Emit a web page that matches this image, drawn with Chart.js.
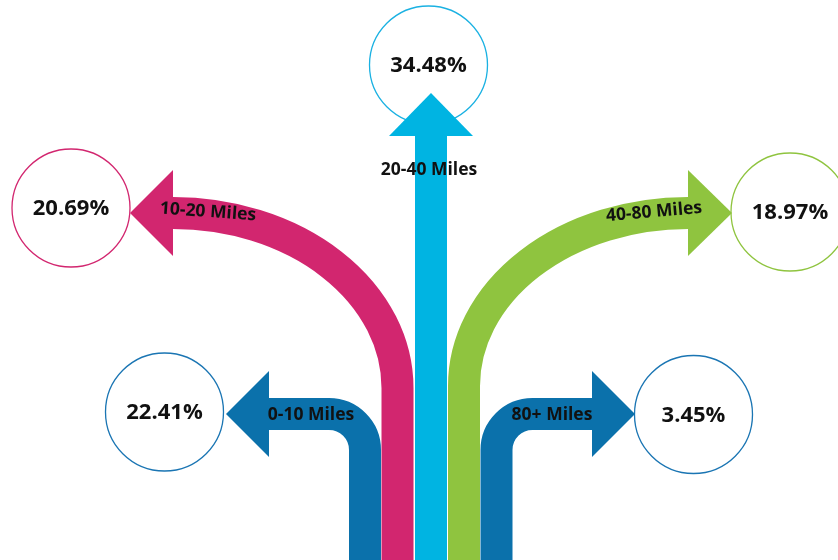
<!DOCTYPE html>
<html>
<head>
<meta charset="utf-8">
<title>Commute distance</title>
<style>
  html, body { margin: 0; padding: 0; background: #fff; }
  .wrap { position: relative; width: 838px; height: 560px; }
</style>
</head>
<body>
<div class="wrap"><canvas id="flow"></canvas></div>
<script src="https://cdn.jsdelivr.net/npm/chart.js@4/dist/chart.umd.min.js"></script>
<script>
'use strict'

const categories = ['0-10 Miles', '10-20 Miles', '20-40 Miles', '40-80 Miles', '80+ Miles']
const shares = [22.41, 20.69, 34.48, 18.97, 3.45]

const colors = ['#0b71ab', '#d2266f', '#00b4e2', '#8fc43f', '#0b71ab']
const ringColors = ['#1a75b3', '#d2266f', '#1ab1e2', '#8fc43f', '#1a75b3']

// arrow routes, in the units of the hidden axes (0..838 across, 0..560 down)
const routes = [
  { type: 'elbow', x: 365, y: 414, toX: 269, tipX: 226 },
  { type: 'curve', x: 397.5, bendY: 388, toX: 173, y: 213, tipX: 130 },
  { type: 'straight', x: 431, toY: 136, tipY: 93 },
  { type: 'curve', x: 464, bendY: 386, toX: 688, y: 213, tipX: 732 },
  { type: 'elbow', x: 496.5, y: 414, toX: 592, tipX: 635 }
]
const bubbleSpots = [[164.5, 412], [71, 208], [428.5, 65], [790, 212], [693.5, 414.5]]
const labelSpots = [[311, 415, 0], [208, 212, 4], [429, 170, 0], [654, 212, -5], [552, 415, 0]]

const SHAFT = 32
const HEAD = 43
const FONT = '"Open Sans", Lato, sans-serif'

function drawRoute(ctx, X, Y, r, color) {
  const bottom = Y(562)
  ctx.save()
  ctx.strokeStyle = color
  ctx.fillStyle = color
  ctx.lineWidth = SHAFT
  ctx.lineCap = 'butt'
  ctx.beginPath()
  ctx.moveTo(X(r.x), bottom)
  if (r.type === 'straight') {
    ctx.lineTo(X(r.x), Y(r.toY))
  } else if (r.type === 'elbow') {
    ctx.arcTo(X(r.x), Y(r.y), X(r.toX), Y(r.y), 36)
    ctx.lineTo(X(r.toX), Y(r.y))
  } else {
    const rx = Math.abs(X(r.x) - X(r.toX))
    const ry = Y(r.bendY) - Y(r.y)
    ctx.lineTo(X(r.x), Y(r.bendY))
    if (r.toX < r.x) {
      ctx.ellipse(X(r.toX), Y(r.bendY), rx, ry, 0, 0, -Math.PI / 2, true)
    } else {
      ctx.ellipse(X(r.toX), Y(r.bendY), rx, ry, 0, Math.PI, 1.5 * Math.PI, false)
    }
  }
  ctx.stroke()

  // arrow head
  ctx.beginPath()
  if (r.type === 'straight') {
    ctx.moveTo(X(r.x) - HEAD + 1, Y(r.toY))
    ctx.lineTo(X(r.x), Y(r.tipY))
    ctx.lineTo(X(r.x) + HEAD - 1, Y(r.toY))
  } else {
    ctx.moveTo(X(r.toX), Y(r.y) - HEAD)
    ctx.lineTo(X(r.tipX), Y(r.y))
    ctx.lineTo(X(r.toX), Y(r.y) + HEAD)
  }
  ctx.closePath()
  ctx.fill()
  ctx.restore()
}

const arrowPlugin = {
  id: 'arrows',
  afterDatasetsDraw(chart) {
    const ctx = chart.ctx
    const X = v => chart.scales.x.getPixelForValue(v)
    const Y = v => chart.scales.y.getPixelForValue(v)

    routes.forEach((r, i) => drawRoute(ctx, X, Y, r, colors[i]))

    ctx.save()
    ctx.fillStyle = '#111'
    ctx.textAlign = 'center'
    ctx.textBaseline = 'middle'

    // distance band on each arrow
    ctx.font = 'bold 17.5px ' + FONT
    categories.forEach((c, i) => {
      const [lx, ly, rot] = labelSpots[i]
      ctx.save()
      ctx.translate(X(lx), Y(ly))
      ctx.rotate(rot * Math.PI / 180)
      ctx.fillText(c, 0, 0)
      ctx.restore()
    })

    // share inside each ring
    ctx.font = 'bold 22px ' + FONT
    const pts = chart.getDatasetMeta(0).data
    shares.forEach((s, i) => {
      ctx.fillText(s.toFixed(2) + '%', pts[i].x, pts[i].y + 1)
    })
    ctx.restore()
  }
}

new Chart(document.getElementById('flow'), {
  type: 'scatter',
  data: {
    labels: categories,
    datasets: [{
      data: bubbleSpots.map(([x, y]) => ({ x, y })),
      pointRadius: 59,
      pointHoverRadius: 59,
      pointBackgroundColor: '#fff',
      pointBorderColor: ringColors,
      pointBorderWidth: 1.3,
      clip: false
    }]
  },
  options: {
    responsive: true,
    maintainAspectRatio: false,
    animation: false,
    events: [],
    layout: { padding: 0, autoPadding: false },
    plugins: {
      legend: { display: false },
      tooltip: { enabled: false }
    },
    scales: {
      x: { type: 'linear', min: 0, max: 838, display: false },
      y: { type: 'linear', min: 0, max: 560, reverse: true, display: false }
    }
  },
  plugins: [arrowPlugin]
})
</script>
</body>
</html>
